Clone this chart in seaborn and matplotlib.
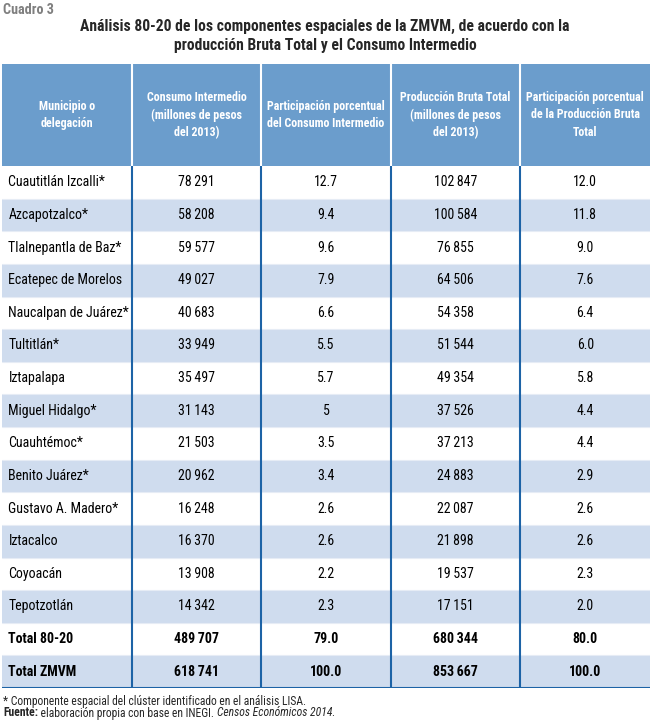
import numpy as np
import pandas as pd
import matplotlib
matplotlib.use('Agg')
import matplotlib.pyplot as plt
import seaborn as sns
from matplotlib.colors import ListedColormap
from matplotlib import font_manager

# Datos del cuadro
municipios = ['Cuautitlán Izcalli*', 'Azcapotzalco*', 'Tlalnepantla de Baz*',
              'Ecatepec de Morelos', 'Naucalpan de Juárez*', 'Tultitlán*',
              'Iztapalapa', 'Miguel Hidalgo*', 'Cuauhtémoc*', 'Benito Juárez*',
              'Gustavo A. Madero*', 'Iztacalco', 'Coyoacán', 'Tepotzotlán',
              'Total 80-20', 'Total ZMVM']
consumo_int = [78291, 58208, 59577, 49027, 40683, 33949, 35497, 31143, 21503,
               20962, 16248, 16370, 13908, 14342, 489707, 618741]
part_ci = ['12.7', '9.4', '9.6', '7.9', '6.6', '5.5', '5.7', '5', '3.5', '3.4',
           '2.6', '2.6', '2.2', '2.3', '79.0', '100.0']
prod_bruta = [102847, 100584, 76855, 64506, 54358, 51544, 49354, 37526, 37213,
              24883, 22087, 21898, 19537, 17151, 680344, 853667]
part_pbt = ['12.0', '11.8', '9.0', '7.6', '6.4', '6.0', '5.8', '4.4', '4.4',
            '2.9', '2.6', '2.6', '2.3', '2.0', '80.0', '100.0']
encabezados = ['Municipio o\ndelegación',
               'Consumo Intermedio\n(millones de pesos\ndel 2013)',
               'Participación porcentual\ndel Consumo Intermedio',
               'Producción Bruta Total\n(millones de pesos\ndel 2013)',
               'Participación porcentual\nde la Producción Bruta\nTotal']

def miles(v):
    return f'{v:,}'.replace(',', '\u2009')

tabla = pd.DataFrame({
    'mun': municipios,
    'ci': [miles(v) for v in consumo_int],
    'pci': part_ci,
    'pbt': [miles(v) for v in prod_bruta],
    'ppbt': part_pbt,
})

# --------------------------------------- Figura -----------------------------------------
sns.set_style('white')
disponibles = {f.name for f in font_manager.fontManager.ttflist}
fuente = 'Liberation Sans'
for cand in ['Liberation Sans Narrow', 'Roboto Condensed', 'Open Sans Condensed']:
    if cand in disponibles:
        fuente = cand
        break
plt.rcParams['font.family'] = [fuente, 'DejaVu Sans']
angosta = fuente != 'Liberation Sans'
k = 1.2 if angosta else 1.0

azul_enc = '#6b9dcc'
azul_claro = '#cfdcee'
azul_linea = '#1d63a6'

fig = plt.figure(figsize=(6.5, 7.2), dpi=100)
W, H = 650, 720
x0, x1 = 2, 650
y_enc0, y_enc1, y_fin = 64, 166, 688

# Encabezado
ax_h = fig.add_axes([x0 / W, 1 - y_enc1 / H, (x1 - x0) / W, (y_enc1 - y_enc0) / H])
sns.heatmap(np.zeros((1, 5)), ax=ax_h, cmap=ListedColormap([azul_enc]), cbar=False,
            annot=np.array([encabezados]), fmt='',
            annot_kws=dict(color='white', fontsize=7.2 * k, fontweight='bold', linespacing=1.45),
            xticklabels=False, yticklabels=False)
for xv in range(1, 5):
    ax_h.axvline(xv, color='white', lw=1.5)

# Cuerpo del cuadro
n = len(municipios)
bandas = np.array([[i % 2] * 5 for i in range(n)])
ax = fig.add_axes([x0 / W, 1 - y_fin / H, (x1 - x0) / W, (y_fin - y_enc1) / H])
sns.heatmap(bandas, ax=ax, cmap=ListedColormap(['white', azul_claro]), cbar=False,
            annot=tabla.values, fmt='', annot_kws=dict(color='black', fontsize=8.3 * k),
            xticklabels=False, yticklabels=False, vmin=0, vmax=1)
for t in ax.texts:
    x, y = t.get_position()
    if x == 0.5:
        t.set_x(0.05)
        t.set_ha('left')
    if y > n - 2:
        t.set_fontweight('bold')
for yv in range(1, n):
    ax.axhline(yv, color='#e6ecf5', lw=0.8)
for xv in range(1, 5):
    ax.axvline(xv, color=azul_linea, lw=1.5)
ax.axhline(n, color=azul_linea, lw=1.5)

# Títulos
fig.text(3 / W, 1 - 10 / H, 'Cuadro 3', fontsize=8.5 * k, fontweight='bold', color='#7f7f7f',
         va='center', ha='left')
fig.text(0.5, 1 - 36 / H,
         'Análisis 80-20 de los componentes espaciales de la ZMVM, de acuerdo con la\n'
         'producción Bruta Total y el Consumo Intermedio',
         fontsize=9.4 * k, fontweight='bold', ha='center', va='center', linespacing=1.3)

# Notas
fs = 7.0 * k
fig.text(3 / W, 1 - 701 / H, '* Componente espacial del clúster identificado en el análisis LISA.',
         fontsize=fs, va='center', ha='left')
t1 = fig.text(3 / W, 1 - 713 / H, 'Fuente:', fontsize=fs, fontweight='bold', va='center', ha='left')
t2 = fig.text(0, 0, ' elaboración propia con base en INEGI. ', fontsize=fs, va='center', ha='left')
t3 = fig.text(0, 0, 'Censos Económicos 2014.', fontsize=fs, style='italic', va='center', ha='left')
fig.canvas.draw()
r = fig.canvas.get_renderer()
xa = t1.get_window_extent(r).x1 / fig.bbox.width
t2.set_position((xa, 1 - 713 / H))
xb = t2.get_window_extent(r).x1 / fig.bbox.width
t3.set_position((xb, 1 - 713 / H))

plt.savefig('out.png', dpi=100)
